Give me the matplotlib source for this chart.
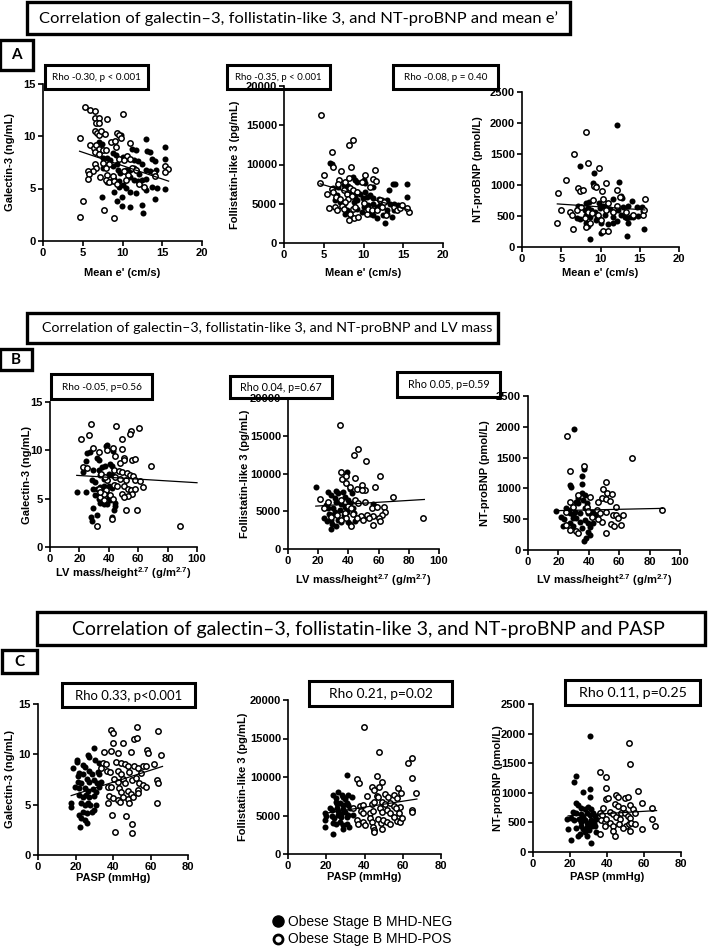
import matplotlib
matplotlib.use('Agg')
import matplotlib.pyplot as plt
from matplotlib.patches import Rectangle
from matplotlib.lines import Line2D

# ---------------- data ----------------
a1_neg = [(7.3,10.3),(9.8,10.1),(7.1,9.4),(7.4,9.2),(13.0,9.7),(15.4,8.95),(11.25,8.8),(11.7,8.7),(13.1,8.55),(13.5,8.5),
          (8.75,8.4),(9.2,8.15),(7.5,7.9),(8.0,7.9),(8.45,7.75),(10.0,8.0),(10.4,7.9),(11.5,7.75),(11.9,7.65),(13.75,7.8),
          (14.1,7.6),(15.4,7.8),(12.5,7.3),(8.1,7.2),(8.75,7.1),(9.25,7.3),(7.5,7.0),(9.4,6.8),(9.7,6.5),(10.4,6.8),
          (10.9,6.75),(11.5,7.0),(11.75,6.75),(12.1,6.4),(12.9,6.8),(13.5,6.65),(14.2,6.8),(11.0,6.1),(11.5,5.85),(11.9,5.7),
          (12.5,5.85),(13.0,5.95),(8.9,5.9),(9.6,5.7),(8.1,5.6),(8.7,5.7),(9.6,5.15),(10.0,5.3),(10.4,5.05),(13.0,4.9),
          (13.75,5.15),(15.4,4.95),(7.4,4.15),(8.95,4.7),(9.25,3.85),(9.9,4.15),(10.95,4.7),(11.7,4.6),(14.1,4.0),(9.9,3.3),
          (10.95,3.2),(12.4,3.45),(12.6,2.7),(14.4,5.05)]
a1_pos = [(5.3,12.8),(5.9,12.5),(6.5,12.4),(6.5,11.7),(7.1,11.75),(6.7,11.2),(7.1,11.2),(10.1,12.1),(8.1,11.6),(4.6,9.8),
          (6.5,10.5),(6.75,10.3),(7.1,10.1),(7.3,10.5),(7.75,10.2),(9.25,10.3),(9.6,10.1),(9.8,9.85),(10.9,9.3),(8.5,9.4),
          (5.9,9.1),(6.4,8.9),(6.7,9.1),(7.1,8.8),(7.6,8.7),(7.9,8.65),(6.5,8.5),(7.1,8.3),(9.2,9.0),(9.0,9.5),
          (10.6,8.1),(9.6,7.8),(10.2,7.7),(6.5,7.35),(6.7,7.0),(6.3,6.7),(7.5,7.45),(8.3,7.3),(7.9,7.0),(5.6,6.65),
          (5.8,6.4),(5.6,5.9),(7.2,6.1),(8.1,6.3),(8.75,6.2),(7.9,5.8),(8.3,5.6),(8.9,5.7),(9.25,5.4),(10.2,6.65),
          (10.75,6.3),(11.25,7.0),(11.7,6.8),(10.4,5.85),(5.0,3.8),(4.6,2.3),(7.7,3.0),(8.9,2.2),(12.7,5.1),(14.0,6.5),
          (14.1,6.2),(15.4,7.1),(15.7,6.9),(15.3,6.6),(12.1,5.4),(11.0,7.8)]
a1_fit_x = [4.6, 15.8]
a1_fit_y = [8.55, 5.7]

a2_neg = [(5.8,10170),(6.0,10080),(8.65,8470),(8.95,8050),(9.15,7750),(10.0,7970),(10.2,7630),(11.25,7120),(13.7,7460),(14.0,7540),
          (15.45,7460),(13.15,6700),(15.45,5850),(6.2,7030),(6.85,7120),(7.55,7330),(8.0,7200),(6.65,6060),(8.3,6060),(8.95,5850),
          (9.6,6270),(9.9,5760),(10.2,6480),(10.4,5850),(10.85,6060),(11.25,5760),(11.9,5640),(12.3,5420),(12.95,5420),(13.35,5000),
          (13.85,5000),(14.4,4790),(7.05,5210),(7.5,4920),(8.75,5210),(9.15,5420),(10.0,4580),(10.6,4790),(11.25,5000),(11.7,4580),
          (12.1,4790),(7.9,4150),(7.7,3730),(9.15,4360),(9.8,3940),(10.85,3730),(11.25,3520),(11.7,3220),(12.5,3520),(12.95,3730),
          (13.8,4150),(13.6,3310),(12.75,2540),(12.95,4150),(6.45,5420)]
a2_pos = [(4.6,16360),(8.65,13140),(8.2,12500),(6.1,11650),(6.2,9660),(7.2,9150),(8.45,9660),(11.4,9320),(10.2,8600),(5.05,8600),
          (4.55,7630),(6.9,7970),(7.7,7750),(8.2,8300),(6.85,7540),(5.45,6270),(6.0,6900),(6.2,6480),(7.5,6700),(7.9,6270),
          (8.3,7030),(8.65,6700),(6.55,5850),(7.05,5640),(8.1,5640),(8.5,5930),(7.7,5210),(5.6,4490),(6.4,4580),(6.65,4240),
          (7.3,4660),(7.55,4360),(8.65,4360),(8.95,4580),(8.3,3730),(8.75,3220),(8.2,2970),(9.3,3310),(10.4,3730),(10.6,4360),
          (11.05,4150),(11.7,4150),(12.3,4580),(12.1,5420),(10.0,5130),(12.85,3520),(13.8,4580),(14.2,4150),(14.6,4490),(15.7,3940),
          (15.45,4490),(14.8,4790),(12.6,5210),(9.15,6480),(9.8,7750),(11.25,8180),(11.55,7840),(10.85,7120)]
a2_fit_x = [4.55, 15.9]
a2_fit_y = [7540, 4150]

a3_neg = [(12.15,1962),(7.35,1299),(9.15,1191),(9.0,1029),(9.4,986),(12.35,1056),(12.65,825),(12.8,787),(14.05,749),(8.2,717),
          (8.55,733),(7.15,663),(9.8,706),(11.6,771),(12.9,652),(10.35,663),(10.75,641),(8.0,598),(8.35,625),(8.85,598),
          (9.3,571),(9.9,625),(11.2,609),(11.55,571),(12.25,598),(13.5,663),(14.6,652),(15.3,641),(15.45,587),(8.2,517),
          (8.65,490),(9.5,501),(9.85,464),(10.55,517),(11.6,490),(12.65,517),(13.1,490),(13.75,490),(14.15,480),(14.8,501),
          (6.95,464),(7.35,447),(8.15,393),(8.35,340),(9.4,437),(10.1,393),(11.0,372),(11.6,383),(12.05,426),(13.5,393),
          (10.1,232),(8.7,129),(13.4,183),(15.5,286),(13.4,464)]
a3_pos = [(8.1,1854),(6.6,1498),(5.65,1083),(4.6,879),(8.4,1353),(9.8,1272),(10.7,1040),(7.15,949),(7.45,911),(7.8,922),
          (9.15,986),(9.4,965),(10.2,911),(12.05,922),(12.45,814),(9.05,760),(10.35,782),(11.0,706),(12.05,663),(15.65,771),
          (5.0,598),(6.1,561),(6.35,512),(6.95,598),(7.55,652),(8.4,571),(8.95,544),(8.0,464),(8.7,393),(9.7,517),
          (10.75,598),(11.6,571),(13.3,571),(14.15,517),(15.45,517),(15.5,598),(4.5,383),(6.5,286),(10.35,253),(10.9,264),
          (10.1,437),(8.2,329)]
a3_fit_x = [4.5, 15.65]
a3_fit_y = [695, 598]

b1_neg = [(25.5,9.7),(27.3,9.8),(31.8,9.25),(33,9.0),(38.6,10.6),(38.2,10.4),(42.7,9.9),(24.5,8.85),(22.7,7.75),(29.5,8.0),
          (33,7.95),(35.2,8.3),(37.5,8.35),(40.5,8.6),(42,8.35),(34.1,7.4),(36.4,7.05),(39.8,7.6),(42,7.4),(38.6,6.9),
          (28.4,6.9),(30.7,6.7),(18.2,5.7),(24.5,5.7),(29.5,6.05),(31.8,5.95),(34.1,6.2),(36.4,6.3),(39.8,6.3),(42,6.15),
          (44.3,6.4),(30.7,5.35),(33,5.0),(35.2,5.35),(37.5,5.5),(39.8,5.1),(40.9,4.85),(34.1,4.55),(36.4,4.4),(39.1,4.5),
          (44.3,4.55),(43.9,4.2),(29.5,4.05),(32.3,3.35),(27.9,3.15),(28.4,2.7),(42,3.15),(43.2,3.8),(36.4,5.85),(38.2,5.7)]
b1_pos = [(27.7,12.75),(45,12.5),(60.7,12.3),(55,12.0),(54.5,11.7),(26.6,11.55),(20.9,11.15),(49.3,11.15),(29.5,10.2),(33.6,9.8),
          (38.6,10.05),(42.7,10.25),(49.3,10.15),(44.3,9.4),(50,9.25),(50.5,9.0),(55.7,9.0),(57.5,9.15),(47.7,8.7),(68.6,8.35),
          (22.7,8.3),(25.5,8.2),(43.2,7.95),(47,7.85),(48.9,7.75),(52.3,7.65),(54.5,7.5),(56.8,7.3),(44.3,7.25),(47.7,7.05),
          (39,6.95),(51.8,6.9),(57.9,6.9),(61.4,6.8),(63.2,6.2),(43.2,6.4),(45.9,6.3),(50,6.3),(53.4,6.05),(55,5.85),
          (57.9,6.05),(56.1,5.45),(53.4,5.25),(48.9,5.5),(50,5.2),(34.5,7.6),(37.5,7.25),(38.2,5.85),(34.1,5.15),(36.8,4.9),
          (51.8,3.8),(59.5,3.85),(31.8,2.15),(88.2,2.15),(40.9,5.35),(42.7,5.0),(36.4,5.5),(33,6.05),(34.1,5.7),(42,2.9)]
b1_fit_x = [18.2, 100]
b1_fit_y = [7.41, 6.65]

b2_neg = [(18.7,8160),(39.3,10240),(26.3,7580),(28.5,7140),(31.5,7720),(33,7360),(36.4,7580),(37.5,6920),(41.3,7890),(42.5,7360),
          (30.8,6700),(31.9,6250),(35.3,5940),(39.8,6470),(40.9,6120),(25.2,5810),(26.3,5370),(29.7,5370),(30.8,4920),(34.2,5140),
          (37.5,5500),(39.3,4920),(43.1,5370),(43.8,4790),(24,4040),(25.8,3680),(28.5,3810),(29.2,3370),(33,3900),(35.3,3590),
          (39.8,3590),(40.9,3280),(44.3,3730),(28.5,2700),(31.9,3020),(56.6,5940),(57.8,5680),(27.4,4700),(28.5,4480),(37.1,4480)]
b2_pos = [(34.2,16360),(46.5,13210),(43.8,12460),(51.7,11660),(34.8,10240),(36,9220),(38.2,9670),(44.7,9360),(61,9700),(57.3,8250),
          (48.8,8470),(51,7800),(69.7,6920),(38.7,8690),(40.9,8160),(46,7890),(49.2,7800),(21.3,6560),(23.6,5370),(26.3,6250),
          (35.3,6470),(44.7,6470),(46.5,6120),(51,6250),(55.5,5370),(58.9,5500),(63.4,5590),(64,4920),(62.2,4480),(60,4040),
          (56.2,4350),(52.1,4480),(53.7,4170),(48.3,4350),(49.9,3900),(43.1,4700),(45.4,4170),(37.5,4790),(38.7,4040),(32.6,4480),
          (34.8,3810),(28.5,4260),(42,3020),(56.2,3240),(60.7,3730),(89.7,4170),(39.8,5680),(42,5370)]
b2_fit_x = [18.4, 90.3]
b2_fit_y = [5680, 6560]

b3_neg = [(30.1,1958),(36.7,1309),(35.6,1201),(27.5,1055),(28.6,1017),(35.8,1071),(33,838),(35.2,930),(37.4,892),(31.4,784),
          (33,757),(36.3,811),(38.5,757),(25.3,676),(26.4,649),(18.2,633),(22,541),(23.5,498),(27.5,595),(29.7,568),
          (30.8,622),(34.1,595),(37.4,676),(39.6,595),(41.8,622),(44,568),(31.9,514),(34.1,460),(37.4,487),(39.6,444),
          (27.5,433),(29.7,389),(23.1,389),(40.7,379),(39.6,298),(40.7,243),(38,200),(36.9,152),(41.8,595),(42.9,433),
          (35.2,352),(29.7,514)]
b3_pos = [(25.9,1850),(68.6,1488),(27.5,1288),(36.9,1363),(51.2,1109),(49.5,985),(52.3,930),(55,909),(48.8,838),(51.6,822),
          (53.8,800),(33,892),(40.7,865),(46.2,784),(58.2,703),(51.2,622),(56,568),(58.2,568),(59.3,514),(62.2,568),
          (54.9,422),(56.5,389),(61.5,406),(49,460),(87.9,649),(51,270),(45.1,649),(47.3,595),(27.5,784),(29.7,703),
          (24.8,622),(25.3,406),(27.5,325),(31.4,308),(33,281),(38.5,703),(39.6,638),(41.8,541),(46.2,498)]
b3_fit_x = [17.6, 88.6]
b3_fit_y = [638, 676]

c1_neg = [(30.1,10.6),(26.5,9.95),(27.4,9.75),(20.7,9.45),(20.7,9.2),(23.9,8.95),(24.8,8.75),(30.6,9.45),(18.6,8.6),(22.1,8.15),
          (23.9,8.0),(27.4,8.3),(28.8,8.05),(31.9,8.2),(32.7,8.0),(21.2,7.3),(23,7.15),(26,7.55),(27.4,7.3),(30.1,7.45),
          (31.3,7.2),(33.6,7.3),(19.5,6.8),(21.8,6.65),(25.3,6.65),(26.5,6.4),(29.2,6.55),(31,6.3),(32.7,6.8),(22.1,6.0),
          (23.9,5.8),(25.7,6.0),(27.4,5.8),(30.1,5.9),(17.7,5.15),(17.7,4.8),(23,5.15),(24.8,5.0),(26.5,5.2),(27.8,5.0),
          (31,5.0),(23.9,4.3),(26,4.15),(28.8,4.3),(30.1,4.5),(21.8,4.0),(23,3.65),(24.8,3.5),(26,3.2),(22.5,2.75),
          (21.2,7.8),(32.7,9.15)]
c1_pos = [(38.9,12.45),(40.2,12.1),(52.7,12.7),(51.3,11.5),(52.7,11.6),(64,12.35),(40.2,11.15),(45.1,11.15),(35.4,10.2),(38.9,10.3),
          (42.5,10.15),(49.7,10.2),(57.9,10.45),(58.4,10.15),(65.8,9.9),(34.5,9.15),(36.3,9.05),(41.6,9.2),(44.2,9.15),(46.5,9.05),
          (47.8,8.85),(51.3,8.85),(56.1,8.8),(57.5,8.85),(61.9,9.05),(36.8,8.35),(38.6,8.2),(42.5,8.3),(44.2,8.05),(48.7,8.2),
          (53.1,8.65),(54.9,8.15),(40.7,7.55),(42.5,7.3),(45.1,7.55),(46.5,7.2),(50.1,7.45),(52.2,7.65),(54,7.15),(55.8,7.0),
          (57.5,6.75),(63.7,7.45),(64.1,7.2),(37.2,6.8),(38.9,6.8),(43.4,6.65),(44.2,6.3),(47.8,6.4),(49.6,6.1),(53.1,6.5),
          (53.1,6.15),(38.1,5.9),(39.8,5.65),(42.5,5.5),(43.7,5.3),(47.8,5.55),(48.7,5.2),(45.5,5.8),(50.8,5.8),(37.5,5.2),
          (63.7,5.2),(39.5,4.0),(46.9,3.9),(50.1,3.05),(41.2,2.3),(50.1,2.2),(33.6,8.6)]
c1_fit_x = [17.7, 66.4]
c1_fit_y = [5.9, 8.8]

c2_neg = [(30.6,10260),(23.6,7660),(26.3,8100),(28,7660),(28.9,7360),(29.8,7100),(31.5,7660),(33.3,7360),(25,6800),(25.7,6490),
          (27.1,6670),(28.5,6360),(30.6,6670),(31.5,6360),(21.9,5930),(22.8,5710),(25.4,5930),(26.3,5630),(28.9,5800),(29.8,5500),
          (32.4,5930),(19.3,5280),(20.1,4940),(22.8,4940),(24,4630),(26.3,5060),(27.5,4760),(30.6,4850),(31.5,5060),(34.2,5060),
          (19.3,4420),(23.6,4070),(25,3900),(27.1,4200),(28.5,3770),(30.6,3900),(31.7,3550),(19.3,3550),(28.9,3200),(23.6,2600),
          (27.7,5190),(25,7230)]
c2_pos = [(39.8,16450),(47.8,13290),(64.8,12510),(62.5,11770),(64.8,9830),(35.9,9740),(37.3,9180),(46.4,10170),(49,9390),(47.8,8660),
          (43.8,8740),(45,8310),(57.3,8530),(66.9,7880),(59.1,7880),(46.4,7530),(47.3,7360),(50.8,7790),(52.5,7450),(55.2,7660),
          (56.9,7230),(41.5,7530),(37.7,6230),(39.4,6360),(43.8,6490),(45,6800),(49,6800),(50.8,6490),(53.4,6580),(55.2,6230),
          (58.7,6150),(34.2,5930),(38,5630),(39.4,5280),(42.9,5370),(44.7,5630),(48.2,5930),(49,5500),(51.7,5710),(53.1,5370),
          (56.6,5930),(57.8,5280),(35.9,4420),(36.8,3900),(39.4,4200),(40.3,3770),(42.9,4630),(43.8,4200),(44.7,3550),(45,3120),
          (45,2900),(47.3,4500),(48.5,4070),(49.9,4420),(51.7,4200),(53.1,3900),(49,3200),(56.9,4330),(58.7,4200),(59.5,4630),
          (64.8,5710),(64.8,5500),(55.2,4850)]
c2_fit_x = [19.3, 67.4]
c2_fit_y = [5280, 7140]

c3_neg = [(31,1954),(23.1,1288),(22,1187),(30.7,1064),(31,935),(27.1,1019),(23.1,834),(24.4,795),(26.2,739),(28,722),
          (29.8,767),(31.6,722),(21.7,683),(23.5,655),(26.2,644),(27.1,599),(29.2,666),(30.7,627),(32.5,655),(33.4,610),
          (20.8,571),(22,543),(24.9,554),(26.2,515),(28,543),(29.2,498),(31.6,543),(32.9,487),(34,554),(18.4,554),
          (26.2,431),(27.1,386),(29.2,420),(30.3,375),(31,459),(32.1,431),(33.4,431),(19,386),(23.5,403),(24.4,263),
          (25.3,308),(28,330),(29,263),(20.8,196),(31.6,151),(34,330)]
c3_pos = [(51.8,1842),(52.7,1484),(36.1,1355),(39.4,1271),(39.4,1075),(56.9,1036),(39.4,890),(40.6,907),(45.1,963),(46,924),
          (49.6,907),(51.3,935),(58.7,823),(52.3,795),(37.9,739),(44.2,812),(46,778),(48.7,739),(54.2,722),(64.1,739),
          (36.1,655),(37.5,627),(41.5,683),(43,644),(47.8,655),(49.6,666),(37,543),(38.8,515),(45.1,588),(46.9,554),
          (51.3,610),(52.2,571),(54.9,666),(41.5,487),(43,431),(46.6,476),(50.5,431),(52,476),(53.2,498),(55,476),
          (64.1,554),(65.9,442),(58.7,386),(52.3,347),(43.3,347),(44.2,274),(48.7,403),(36.1,308),(38.8,431),(39.7,554)]
c3_fit_x = [19, 66.8]
c3_fit_y = [610, 700]

section_titles = ["Correlation of galectin\u20133, follistatin-like 3, and NT-proBNP and mean e\u2019",
                  "Correlation of galectin\u20133, follistatin-like 3, and NT-proBNP and LV mass",
                  "Correlation of galectin\u20133, follistatin-like 3, and NT-proBNP and PASP"]
section_letters = ["A", "B", "C"]
rho_labels = ["Rho -0.30, p < 0.001", "Rho -0.35, p < 0.001", "Rho -0.08, p = 0.40",
              "Rho -0.05, p=0.56", "Rho 0.04, p=0.67", "Rho 0.05, p=0.59",
              "Rho 0.33, p<0.001", "Rho 0.21, p=0.02", "Rho 0.11, p=0.25"]
x_labels = ["Mean e' (cm/s)", r"LV mass/height$^{\mathbf{2.7}}$ (g/m$^{\mathbf{2.7}}$)", "PASP (mmHg)"]
y_labels = ["Galectin-3 (ng/mL)", "Follistatin-like 3 (pg/mL)", "NT-proBNP (pmol/L)"]
x_ticks = [[0, 5, 10, 15, 20], [0, 20, 40, 60, 80, 100], [0, 20, 40, 60, 80]]
y_ticks = [[0, 5, 10, 15], [0, 5000, 10000, 15000, 20000], [0, 500, 1000, 1500, 2000, 2500]]
legend_labels = ["Obese Stage B MHD-NEG", "Obese Stage B MHD-POS"]

neg_sets = [a1_neg, a2_neg, a3_neg, b1_neg, b2_neg, b3_neg, c1_neg, c2_neg, c3_neg]
pos_sets = [a1_pos, a2_pos, a3_pos, b1_pos, b2_pos, b3_pos, c1_pos, c2_pos, c3_pos]
fit_sets = [(a1_fit_x, a1_fit_y), (a2_fit_x, a2_fit_y), (a3_fit_x, a3_fit_y),
            (b1_fit_x, b1_fit_y), (b2_fit_x, b2_fit_y), (b3_fit_x, b3_fit_y),
            (c1_fit_x, c1_fit_y), (c2_fit_x, c2_fit_y), (c3_fit_x, c3_fit_y)]

# ---------------- layout (pixels) ----------------
W, H = 709, 949
axes_px = [(43, 202, 83.5, 241), (284, 443, 86, 243), (522, 679, 92, 247),
           (50, 197, 402, 547), (288, 439, 398, 549), (528, 680, 396, 550),
           (38, 188, 704, 855), (288, 441, 700, 854), (533, 681, 704, 852)]
xlab_y = [273, 273, 273, 573, 580, 580, 878, 877, 877]
ylab_x = [10, 235, 478, 27, 245, 485, 10, 243, 498]
rho_box = [(45, 148, 65, 89), (227, 330, 65, 89), (393, 498, 65, 89),
           (51, 152, 374, 399), (230, 332, 376, 398), (397, 500, 372, 397),
           (62, 195, 683, 707), (309, 452, 681, 706), (565, 700, 680, 705)]
rho_textw = [89, 87, 84, 80, 82, 82, 107, 104, 108]
title_box = [(27, 570, 2, 34), (27, 498, 313, 343), (37, 705, 612, 645)]
title_text = [(40, 557), (43, 492), (73, 664)]
letter_box = [(0, 33, 40, 70), (0, 32, 349, 370), (2, 37, 650, 673)]

plt.rcParams['font.family'] = ['Liberation Sans', 'DejaVu Sans']
plt.rcParams['font.weight'] = 'bold'
plt.rcParams['axes.labelweight'] = 'bold'
plt.rcParams['mathtext.fontset'] = 'custom'
plt.rcParams['mathtext.rm'] = 'Liberation Sans'
plt.rcParams['mathtext.bf'] = 'Liberation Sans:bold'

fig = plt.figure(figsize=(W / 100, H / 100), dpi=100)
fig.patch.set_facecolor('white')

ov = fig.add_axes([0, 0, 1, 1], zorder=10)
ov.set_xlim(0, W)
ov.set_ylim(H, 0)
ov.axis('off')
ov.patch.set_alpha(0)

renderer = fig.canvas.get_renderer()


def fit_text(x, y, s, target_w, family, weight='normal', fs0=10, **kw):
    t = ov.text(x, y, s, fontsize=fs0, family=family, fontweight=weight,
                ha='center', va='center', **kw)
    for _ in range(3):
        w = t.get_window_extent(renderer).width
        t.set_fontsize(t.get_fontsize() * target_w / w)
    return t


def box(x0, x1, y0, y1, lw=2.2):
    ov.add_patch(Rectangle((x0, y0), x1 - x0, y1 - y0, fill=False,
                           edgecolor='black', linewidth=lw))


# section titles and letters
for i in range(3):
    bx = title_box[i]
    box(*bx, lw=2.4)
    tx0, tx1 = title_text[i]
    fit_text((tx0 + tx1) / 2, (bx[2] + bx[3]) / 2 + 0.5, section_titles[i], tx1 - tx0, 'Lato')
    lb = letter_box[i]
    box(*lb, lw=2.4)
    ov.text((lb[0] + lb[1]) / 2, (lb[2] + lb[3]) / 2, section_letters[i], family='Lato',
            fontweight='bold', fontsize=11, ha='center', va='center')

# panels
for k in range(9):
    row = k // 3
    col = k % 3
    x0, x1, yt, yb = axes_px[k]
    ax = fig.add_axes([x0 / W, 1 - yb / H, (x1 - x0) / W, (yb - yt) / H], zorder=2)
    ax.patch.set_alpha(0)
    xt = x_ticks[row]
    ytk = y_ticks[col]
    ax.set_xlim(xt[0], xt[-1])
    ax.set_ylim(ytk[0], ytk[-1])
    ax.set_xticks(xt)
    ax.set_yticks(ytk)
    for s in ['top', 'right']:
        ax.spines[s].set_visible(False)
    for s in ['left', 'bottom']:
        ax.spines[s].set_linewidth(1.2)
    ax.tick_params(direction='out', length=3.5, width=1.2, labelsize=8, pad=1.5)

    nx, ny = zip(*neg_sets[k])
    px, py = zip(*pos_sets[k])
    ax.scatter(nx, ny, s=19, c='black', linewidths=0, zorder=3, clip_on=False)
    ax.scatter(px, py, s=15, facecolors='white', edgecolors='black', linewidths=1.1,
               zorder=4, clip_on=False)
    fx, fy = fit_sets[k]
    ax.plot(fx, fy, color='black', lw=0.9, zorder=5, clip_on=False)

    # axis labels
    ov.text((x0 + x1) / 2, xlab_y[k], x_labels[row], fontsize=8, fontweight='bold',
            ha='center', va='center')
    ov.text(ylab_x[k], (yt + yb) / 2, y_labels[col], fontsize=8, fontweight='bold',
            ha='center', va='center', rotation=90)

    # rho boxes
    rb = rho_box[k]
    box(*rb, lw=2.2)
    fit_text((rb[0] + rb[1]) / 2, (rb[2] + rb[3]) / 2 + 0.5, rho_labels[k], rho_textw[k], 'Lato')

# legend
handles = [Line2D([], [], marker='o', linestyle='none', markersize=8, markerfacecolor='black',
                  markeredgecolor='black'),
           Line2D([], [], marker='o', linestyle='none', markersize=6.5, markerfacecolor='white',
                  markeredgecolor='black', markeredgewidth=2.0)]
leg = fig.legend(handles, legend_labels, loc='center left', bbox_to_anchor=(272 / W, 1 - 930.5 / H),
                 frameon=False, handlelength=0.9, handletextpad=0.25, labelspacing=0.28,
                 borderpad=0, borderaxespad=0,
                 prop={'family': 'Liberation Sans', 'weight': 'normal', 'size': 10})

fig.savefig('out.png', dpi=100)
